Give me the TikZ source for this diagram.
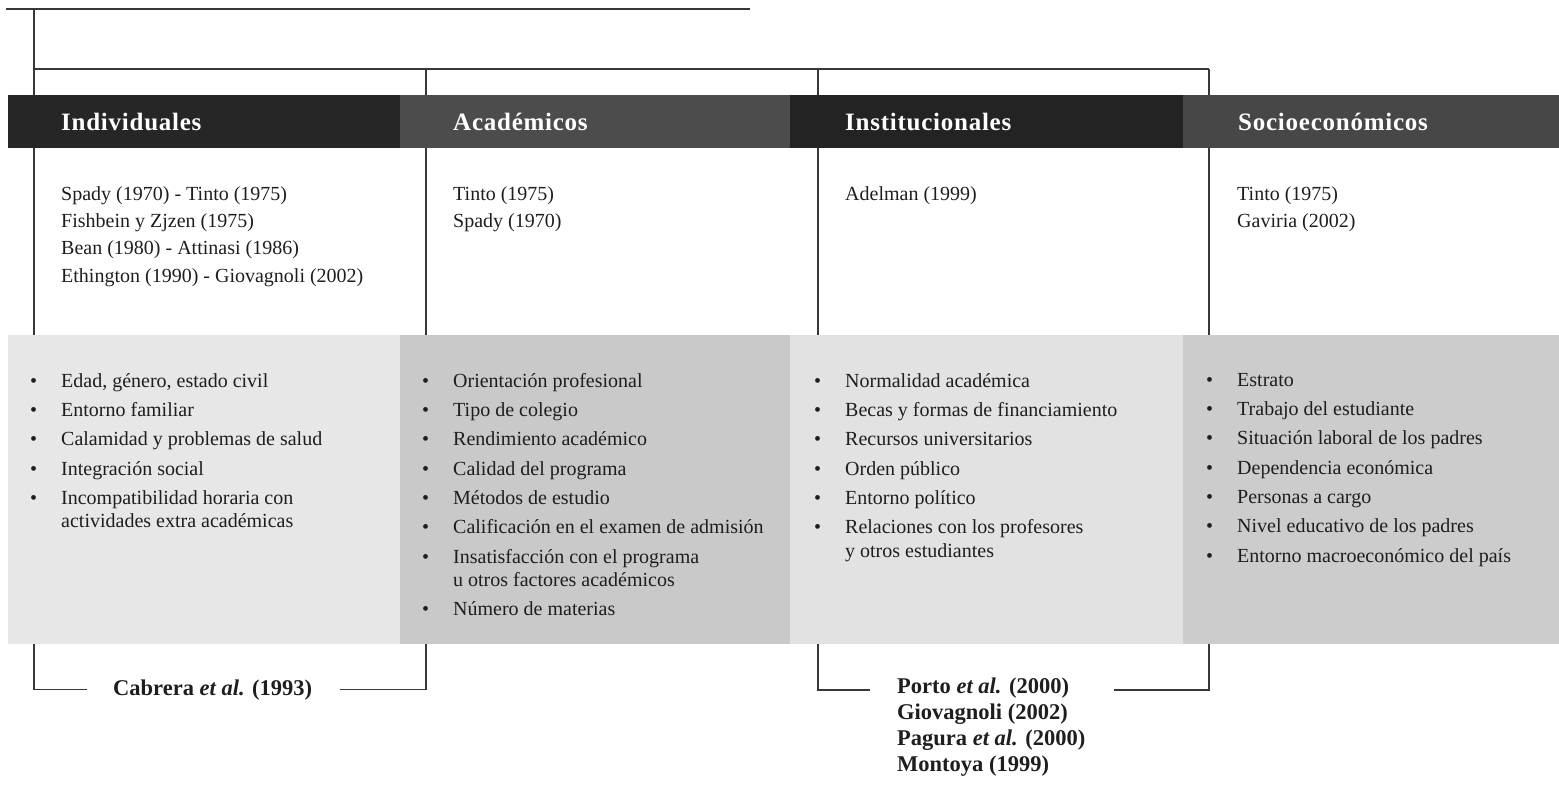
\documentclass[tikz,border=0pt]{standalone}
\usepackage{fontspec}
\setmainfont{Liberation Serif}
\usetikzlibrary{positioning}

\definecolor{inktext}{HTML}{1e1e1e}
\definecolor{lineg}{HTML}{383838}
\definecolor{bandA}{HTML}{262626}
\definecolor{bandB}{HTML}{4c4c4c}
\definecolor{bandC}{HTML}{232323}
\definecolor{bandD}{HTML}{474747}
\definecolor{panA}{HTML}{e7e7e7}
\definecolor{panB}{HTML}{c9c9c9}
\definecolor{panC}{HTML}{e2e2e2}
\definecolor{panD}{HTML}{cccccc}

% bullet, continuation indent, gap between items
\newcommand{\itm}{\makebox[30pt][l]{\hspace{-1pt}\textbullet}}
\newcommand{\cont}{\hspace*{30pt}}
\newcommand{\gap}{\\[5.8pt]}

\tikzset{
  conn/.style={draw=lineg, line width=1.3pt},
  heading/.style={anchor=base west, inner sep=0pt, text=white,
    font=\fontsize{25}{28}\selectfont\bfseries\addfontfeatures{LetterSpace=3}},
  refs/.style={anchor=north west, inner sep=0pt, align=left, text=inktext,
    font=\fontsize{20}{27.2}\selectfont},
  items/.style={anchor=north west, inner sep=0pt, align=left, text=inktext,
    font=\fontsize{20}{23.5}\selectfont},
  cite/.style={inner sep=0pt, align=left, text=inktext,
    font=\fontsize{22.5}{26}\selectfont\bfseries},
}

\begin{document}
\begin{tikzpicture}[x=1pt, y=-1pt]
    \useasboundingbox (0,0) rectangle (1559,789);

    %tree
    \coordinate (tL) at (6,9);
    \coordinate (tR) at (750,9);
    \coordinate (bar) at (0,69);
    \coordinate (panTop) at (0,335);
    \coordinate (jI) at (34,644);
    \coordinate (jA) at (426,644);
    \coordinate (jN) at (818,644);
    \coordinate (jS) at (1209,644);
    \draw[conn] (tL) -- (tR);
    \draw[conn] (tL -| jI) -- (jI |- bar);
    \draw[conn] (jI |- bar) -- (jS |- bar);
    \foreach \c in {jI,jA,jN,jS}
        \draw[conn] (\c |- bar) -- (\c |- panTop);

    %header band
    \fill[bandA] (8,95) rectangle (400,148);
    \fill[bandB] (400,95) rectangle (790,148);
    \fill[bandC] (790,95) rectangle (1183,148);
    \fill[bandD] (1183,95) rectangle (1559,148);
    \node[heading] (hInd) at (61,130.5) {Individuales};
    \node[heading] (hAca) at (453,130.5) {Académicos};
    \node[heading] (hIns) at (845,130.5) {Institucionales};
    \node[heading] (hSoc) at (1238,130.5) {Socioeconómicos};

    %authors
    \node[refs] (rInd) at (61,186.5) %
         {Spady (1970) - Tinto (1975)\\Fishbein y Zjzen (1975)\\%
          Bean (1980) - Attinasi (1986)\\Ethington (1990) - Giovagnoli (2002)};
    \node[refs] (rAca) at (453,186.5) {Tinto (1975)\\Spady (1970)};
    \node[refs] (rIns) at (845,186.5) {Adelman (1999)};
    \node[refs] (rSoc) at (1237,186.5) {Tinto (1975)\\Gaviria (2002)};

    %factor panels
    \fill[panA] (8,335) rectangle (400,644);
    \fill[panB] (400,335) rectangle (790,644);
    \fill[panC] (790,335) rectangle (1183,644);
    \fill[panD] (1183,335) rectangle (1559,644);
    \node[items] (lInd) at (31,373) %
         {\itm Edad, género, estado civil\gap
          \itm Entorno familiar\gap
          \itm Calamidad y problemas de salud\gap
          \itm Integración social\gap
          \itm Incompatibilidad horaria con\\
          \cont actividades extra académicas};
    \node[items] (lAca) at (423,373) %
         {\itm Orientación profesional\gap
          \itm Tipo de colegio\gap
          \itm Rendimiento académico\gap
          \itm Calidad del programa\gap
          \itm Métodos de estudio\gap
          \itm Calificación en el examen de admisión\gap
          \itm Insatisfacción con el programa\\
          \cont u otros factores académicos\gap
          \itm Número de materias};
    \node[items] (lIns) at (815,373) %
         {\itm Normalidad académica\gap
          \itm Becas y formas de financiamiento\gap
          \itm Recursos universitarios\gap
          \itm Orden público\gap
          \itm Entorno político\gap
          \itm Relaciones con los profesores\\
          \cont y otros estudiantes};
    \node[items] (lSoc) at (1207,373) %
         {\itm Estrato\gap
          \itm Trabajo del estudiante\gap
          \itm Situación laboral de los padres\gap
          \itm Dependencia económica\gap
          \itm Personas a cargo\gap
          \itm Nivel educativo de los padres\gap
          \itm Entorno macroeconómico del país};

    %groupings
    \node[cite, anchor=base west] (cCab) at (113,695) %
         {Cabrera {\itshape et al.} (1993)};
    \node[cite, anchor=north west] (cPor) at (897,678) %
         {Porto {\itshape et al.} (2000)\\Giovagnoli (2002)\\%
          Pagura {\itshape et al.} (2000)\\Montoya (1999)};
    \draw[conn] (jI) |- ([xshift=-26pt]cCab.west);
    \draw[conn] ([xshift=28pt]cCab.east) -| (jA);
    \draw[conn] (jN) |- ([xshift=-27pt,yshift=-12pt]cPor.north west);
    \draw[conn] ([xshift=28pt,yshift=-12pt]cPor.north east) -| (jS);
\end{tikzpicture}
\end{document}
